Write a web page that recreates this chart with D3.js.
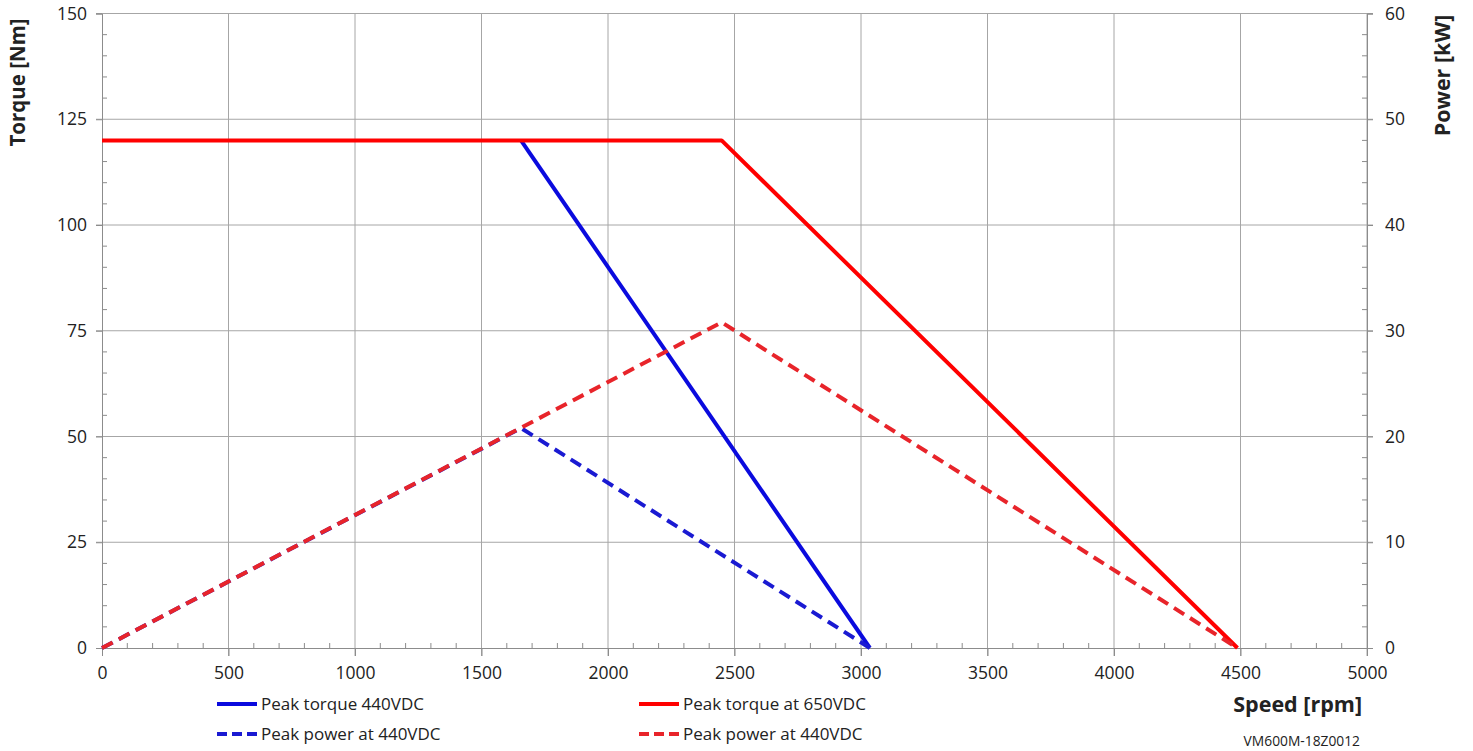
<!DOCTYPE html>
<html>
<head>
<meta charset="utf-8">
<script src="https://cdn.jsdelivr.net/npm/d3@7"></script>
<style>
  body { margin: 0; background: #fff; }
  text { font-family: "Open Sans", "Liberation Sans", sans-serif; fill: #222; }
</style>
</head>
<body>
<svg id="chart"></svg>
<script>
// speed [rpm] breakpoints and values
var torque440Speed = [1656, 3035];
var torque440 = [120, 0];
var torque650Speed = [0, 2449, 4488];
var torque650 = [120, 120, 0];
var power440Speed = [0, 1656, 3035];
var power440 = [0, 20.8, 0];
var power650Speed = [0, 2449, 4488];
var power650 = [0, 30.8, 0];

var xTicks = [0, 500, 1000, 1500, 2000, 2500, 3000, 3500, 4000, 4500, 5000];
var torqueTicks = [0, 25, 50, 75, 100, 125, 150];
var powerTicks = [0, 10, 20, 30, 40, 50, 60];

var seriesNames = ["Peak torque 440VDC", "Peak torque at 650VDC", "Peak power at 440VDC", "Peak power at 440VDC"];

var width = 1473, height = 751;
var margin = {top: 13.5, right: 106, bottom: 103, left: 102};
var w = width - margin.left - margin.right;
var h = height - margin.top - margin.bottom;

var svg = d3.select("#chart").attr("width", width).attr("height", height);
var g = svg.append("g").attr("transform", "translate(" + margin.left + "," + margin.top + ")");

var x = d3.scaleLinear().domain([0, 5000]).range([0, w]);
var yT = d3.scaleLinear().domain([0, 150]).range([h, 0]);
var yP = d3.scaleLinear().domain([0, 60]).range([h, 0]);

var gridColor = "#a6a6a6", axisColor = "#8c8c8c";

// gridlines
g.append("g").selectAll("line").data(xTicks.slice(1)).enter().append("line")
	.attr("x1", function(d) { return x(d); }).attr("x2", function(d) { return x(d); })
	.attr("y1", 0).attr("y2", h + 8)
	.attr("stroke", gridColor);
g.append("g").selectAll("line").data(torqueTicks.slice(1)).enter().append("line")
	.attr("x1", -6).attr("x2", w + 6)
	.attr("y1", function(d) { return yT(d); }).attr("y2", function(d) { return yT(d); })
	.attr("stroke", gridColor);

// minor ticks (inside)
var minorX = d3.range(0, 5001, 100).filter(function(d) { return d % 500; });
g.append("g").selectAll("line").data(minorX).enter().append("line")
	.attr("x1", function(d) { return x(d); }).attr("x2", function(d) { return x(d); })
	.attr("y1", h).attr("y2", h - 5)
	.attr("stroke", axisColor);
var minorY = d3.range(0, 151, 5).filter(function(d) { return d % 25; });
g.append("g").selectAll("line").data(minorY).enter().append("line")
	.attr("x1", 0).attr("x2", 5)
	.attr("y1", function(d) { return yT(d); }).attr("y2", function(d) { return yT(d); })
	.attr("stroke", axisColor);
g.append("g").selectAll("line").data(minorY).enter().append("line")
	.attr("x1", w).attr("x2", w - 5)
	.attr("y1", function(d) { return yT(d); }).attr("y2", function(d) { return yT(d); })
	.attr("stroke", axisColor);

// axes
var xAxis = g.append("g").attr("transform", "translate(0," + h + ")")
	.call(d3.axisBottom(x).tickValues(xTicks).tickSize(8).tickPadding(11).tickFormat(d3.format("d")));
var yAxisL = g.append("g")
	.call(d3.axisLeft(yT).tickValues(torqueTicks).tickSize(6).tickPadding(9));
var yAxisR = g.append("g").attr("transform", "translate(" + w + ",0)")
	.call(d3.axisRight(yP).tickValues(powerTicks).tickSize(6).tickPadding(12));
[xAxis, yAxisL, yAxisR].forEach(function(a) {
	a.select(".domain").attr("stroke", axisColor);
	a.selectAll(".tick line").attr("stroke", axisColor);
	a.selectAll(".tick text").style("font-size", "17.5px").attr("fill", "#222");
});
xAxis.selectAll(".tick text").attr("dy", "0.71em");

// curves
var series = [
	{sp: torque440Speed, v: torque440, y: yT, color: "#0a0ade", dash: null},
	{sp: torque650Speed, v: torque650, y: yT, color: "#ff0000", dash: null},
	{sp: power440Speed, v: power440, y: yP, color: "#1a1ad2", dash: "12,7"},
	{sp: power650Speed, v: power650, y: yP, color: "#e8242a", dash: "12,7"}
];
series.forEach(function(s) {
	var pts = s.sp.map(function(d, j) { return [d, s.v[j]]; });
	var line = d3.line().x(function(d) { return x(d[0]); }).y(function(d) { return s.y(d[1]); });
	g.append("path").datum(pts)
		.attr("d", line)
		.attr("fill", "none")
		.attr("stroke", s.color)
		.attr("stroke-width", 4)
		.attr("stroke-dasharray", s.dash)
		.attr("stroke-linejoin", "round");
});

// axis titles
svg.append("text")
	.attr("transform", "translate(25," + (margin.top + 69) + ") rotate(-90)")
	.attr("text-anchor", "middle")
	.style("font-size", "20.5px").style("font-weight", "bold")
	.text("Torque [Nm]");
svg.append("text")
	.attr("transform", "translate(1450," + (margin.top + 62) + ") rotate(-90)")
	.attr("text-anchor", "middle")
	.style("font-size", "21.5px").style("font-weight", "bold")
	.text("Power [kW]");
svg.append("text")
	.attr("x", 1362).attr("y", 712)
	.attr("text-anchor", "end")
	.style("font-size", "21.5px").style("font-weight", "bold")
	.text("Speed [rpm]");
svg.append("text")
	.attr("x", 1360).attr("y", 746)
	.attr("text-anchor", "end")
	.style("font-size", "13.8px")
	.text("VM600M-18Z0012");

// legend
var legendPos = [[217, 704], [639, 704], [217, 734], [639, 734]];
var legend = svg.append("g");
series.forEach(function(s, i) {
	var p = legendPos[i];
	legend.append("line")
		.attr("x1", p[0]).attr("x2", p[0] + 40)
		.attr("y1", p[1]).attr("y2", p[1])
		.attr("stroke", s.color).attr("stroke-width", 4)
		.attr("stroke-dasharray", s.dash ? "10,5" : null);
	legend.append("text")
		.attr("x", p[0] + 44).attr("y", p[1])
		.attr("dy", "0.35em")
		.style("font-size", "17px")
		.text(seriesNames[i]);
});
</script>
</body>
</html>
